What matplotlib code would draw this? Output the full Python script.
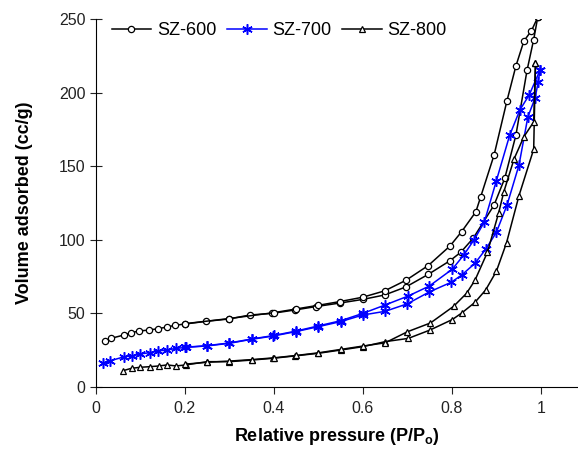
import matplotlib.pyplot as plt

plt.rcParams['font.family'] = ['Liberation Sans', 'DejaVu Sans']

# SZ-600 (adsorption / desorption)
p600_ads = [0.02, 0.033, 0.063, 0.079, 0.097, 0.119, 0.14, 0.159, 0.178, 0.2, 0.248, 0.299, 0.346,
            0.396, 0.447, 0.494, 0.548, 0.6, 0.649, 0.697, 0.747, 0.796, 0.82, 0.848, 0.895, 0.919,
            0.944, 0.969, 0.984, 0.993]
v600_ads = [31, 33, 35.3, 36.9, 38, 38.7, 39.6, 40.7, 41.9, 42.8, 44.6, 46.2, 48.9,
            50, 52.3, 54.6, 57, 59.5, 62.5, 68, 76.5, 85.8, 91.5, 101, 123.6, 141.8,
            171, 215, 236, 251]
p600_des = [0.993, 0.979, 0.962, 0.944, 0.924, 0.895, 0.865, 0.854, 0.822, 0.796, 0.747, 0.697,
            0.649, 0.6, 0.548, 0.5, 0.45, 0.4, 0.3, 0.2]
v600_des = [251, 242, 235, 218, 194.5, 157.6, 129.3, 119, 105.5, 95.8, 82.5, 72.5,
            65.3, 61, 58, 55.5, 53, 50.5, 46.5, 43]

# SZ-700
p700_ads = [0.015, 0.031, 0.064, 0.08, 0.099, 0.121, 0.14, 0.159, 0.18, 0.202, 0.25, 0.3, 0.35,
            0.398, 0.449, 0.5, 0.55, 0.6, 0.65, 0.7, 0.749, 0.799, 0.822, 0.852, 0.876, 0.9,
            0.924, 0.951, 0.971, 0.987, 0.994, 0.998]
v700_ads = [16.1, 17.7, 20.6, 21, 22.4, 23.3, 24.5, 25.1, 26.2, 26.9, 27.9, 29.7, 32.4,
            34.6, 37.6, 41, 44.4, 48.9, 51.4, 56.5, 64.5, 71.2, 76, 84, 93.5, 105,
            123.5, 150.8, 183.6, 196.1, 207, 215]
p700_des = [0.998, 0.974, 0.953, 0.93, 0.9, 0.873, 0.85, 0.827, 0.801, 0.749, 0.702, 0.65,
            0.6, 0.55, 0.5, 0.45, 0.4, 0.35, 0.3, 0.25, 0.2]
v700_des = [215, 198.4, 188.2, 171, 140, 112, 100, 89.7, 80, 68.5, 61.8, 55.7,
            50, 45, 41.5, 38, 35, 32.6, 29.9, 28.1, 27]

# SZ-800
p800_ads = [0.061, 0.08, 0.1, 0.121, 0.142, 0.16, 0.18, 0.202, 0.25, 0.3, 0.35, 0.398, 0.447,
            0.5, 0.55, 0.6, 0.65, 0.702, 0.751, 0.801, 0.822, 0.852, 0.876, 0.9, 0.923, 0.951,
            0.984, 0.988]
v800_ads = [11.1, 12.7, 13.4, 13.8, 14.3, 15, 14.3, 15, 17.2, 17.2, 18.3, 19.5, 21.1,
            22.9, 25.1, 27.4, 30.8, 33, 38.7, 45.8, 50.2, 57.5, 65.9, 78.5, 98, 130,
            161.5, 220]
p800_des = [0.988, 0.984, 0.962, 0.94, 0.917, 0.905, 0.88, 0.852, 0.833, 0.804, 0.752, 0.7,
            0.65, 0.6, 0.55, 0.5, 0.45, 0.4, 0.35, 0.3, 0.25, 0.2]
v800_des = [220, 180, 170, 155, 132.7, 118, 91.5, 72.5, 63.6, 54.8, 43.5, 37.5,
            30, 27.8, 25.5, 23.2, 21.4, 19.8, 18.6, 17.6, 16.8, 15.5]

x_ticks = [0, 0.2, 0.4, 0.6, 0.8, 1]
x_tick_labels = ['0', '0.2', '0.4', '0.6', '0.8', '1']
y_ticks = [0, 50, 100, 150, 200, 250]

fig = plt.figure(figsize=(5.78, 4.5), dpi=100)
ax = fig.add_axes([0.166, 0.14, 0.832, 0.818])

ms = 4.5
ax.plot(p600_ads, v600_ads, color='black', lw=1.1, marker='o', ms=ms, mfc='white', mec='black',
        mew=0.9, label='SZ-600')
ax.plot(p600_des, v600_des, color='black', lw=1.1, marker='o', ms=ms, mfc='white', mec='black',
        mew=0.9)
ax.plot(p700_ads, v700_ads, color='blue', lw=1.1, marker=(6, 2, 0), ms=7.5, mec='blue',
        mew=1.1, label='SZ-700')
ax.plot(p700_des, v700_des, color='blue', lw=1.1, marker=(6, 2, 0), ms=7.5, mec='blue', mew=1.1)
ax.plot(p800_ads, v800_ads, color='black', lw=1.1, marker='^', ms=ms + 0.5, mfc='white',
        mec='black', mew=0.9, label='SZ-800')
ax.plot(p800_des, v800_des, color='black', lw=1.1, marker='^', ms=ms + 0.5, mfc='white',
        mec='black', mew=0.9)

ax.set_xlim(0, 1.081)
ax.set_ylim(0, 250)
ax.set_xticks(x_ticks)
ax.set_xticklabels(x_tick_labels)
ax.set_yticks(y_ticks)
ax.spines['top'].set_visible(False)
ax.spines['right'].set_visible(False)
ax.tick_params(axis='x', direction='out', length=5, pad=5, labelsize=11.5, colors='#222222')
ax.tick_params(axis='y', direction='inout', length=8, labelsize=11.5, colors='#222222')

ax.set_xlabel('Relative pressure (P/P$_\\mathregular{o}$)', fontsize=13, fontweight='bold',
              labelpad=7)
ax.set_ylabel('Volume adsorbed (cc/g)', fontsize=13, fontweight='bold', labelpad=19)

ax.legend(loc='upper left', bbox_to_anchor=(0.01, 1.02), ncol=3, frameon=False, fontsize=13,
          handlelength=2.2, handletextpad=0.3, columnspacing=0.6, borderaxespad=0.2)

fig.savefig('out.png', dpi=100)
